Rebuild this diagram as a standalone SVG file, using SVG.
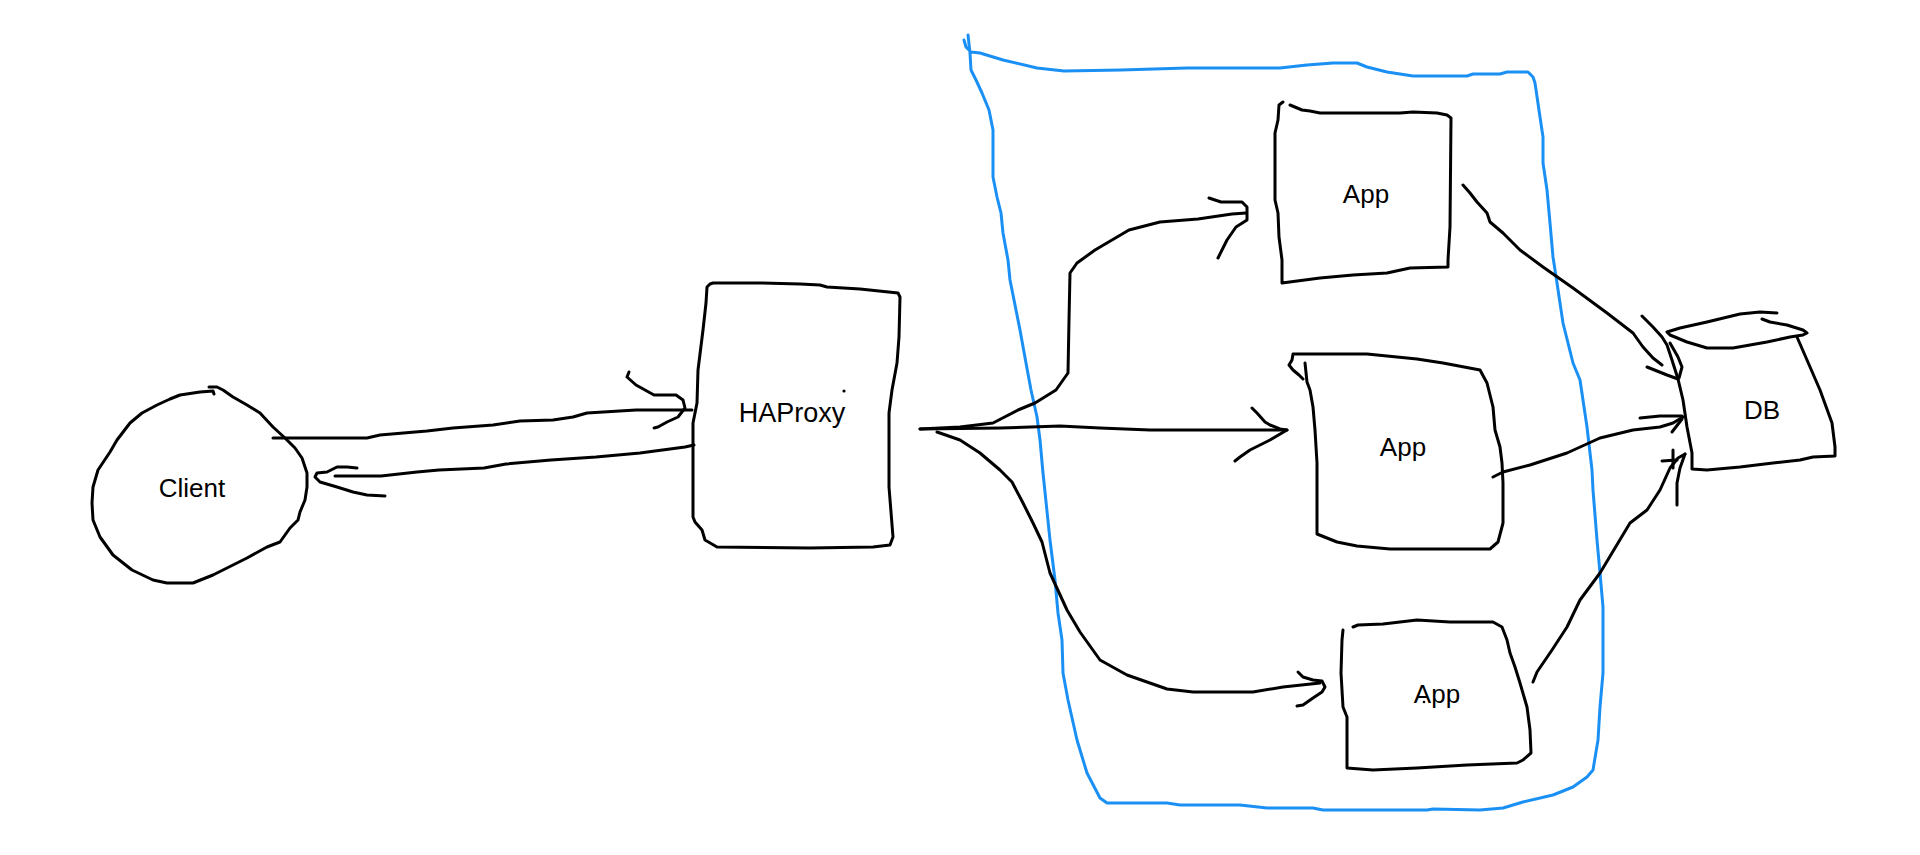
<svg xmlns="http://www.w3.org/2000/svg" width="1920" height="855" viewBox="0 0 1920 855">
<style>
.ink{fill:none;stroke:#000;stroke-width:3;stroke-linecap:round;stroke-linejoin:round}
.blue{fill:none;stroke:#1a90f5;stroke-width:3;stroke-linecap:round;stroke-linejoin:round}
.lbl{font-family:"Liberation Sans",Arial,sans-serif;font-size:26px;fill:#000;text-anchor:middle}
</style>
<rect width="1920" height="855" fill="#fff"/>
<g id="boundary">
<path class="blue" d="M964,40 L966,47 L971,52 L980,53 L1003,60 L1037,68 L1064,71 L1121,70 L1187,68 L1280,68 L1307,65 L1333,63 L1357,63 L1367,67 L1387,72 L1413,76 L1467,76 L1473,74 L1500,74 L1507,72 L1528,72 L1533,77 L1535,83 L1540,117 L1543,137 L1543,163 L1547,190 L1550,223 L1553,257 L1557,283 L1563,323 L1573,363 L1580,380 L1587,427 L1592,470 L1593,490 L1597,540 L1600,573 L1603,607 L1603,673 L1600,707 L1598,740 L1593,770 L1587,777 L1573,787 L1553,795 L1523,802 L1503,808 L1480,810 L1433,809 L1427,810 L1323,810 L1313,808 L1267,808 L1240,805 L1180,805 L1167,803 L1107,803 L1100,798 L1087,773 L1077,740 L1068,700 L1063,673 L1062,640 L1058,613 L1055,580 L1050,540 L1043,473 L1040,440 L1037,417 L1031,390 L1026,363 L1020,330 L1014,300 L1010,280 L1008,260 L1003,233 L1001,213 L997,197 L993,177 L993,130 L989,110 L982,93 L976,80 L971,70 L970,53 L968,35"/>
</g>
<g id="client">
<path class="ink" d="M214,394 L213,391 L200,392 L180,395 L170,399 L157,405 L142,413 L130,423 L117,440 L110,452 L98,470 L93,487 L92,503 L93,520 L100,537 L113,555 L132,570 L153,580 L167,583 L193,583 L213,575 L247,558 L267,547 L280,542 L290,528 L298,520 L300,512 L305,500 L307,487 L307,473 L302,458 L295,448 L285,438 L273,427 L260,413 L247,405 L233,397 L223,390 L217,387 L209,387"/>
<text class="lbl" x="192" y="497">Client</text>
</g>
<g id="haproxy">
<path class="ink" d="M710,284 L713,283 L760,283 L800,284 L820,285 L827,287 L860,289 L898,293 L900,297 L899,337 L897,363 L892,390 L889,413 L889,487 L893,537 L890,545 L873,547 L810,548 L717,547 L705,540 L702,530 L695,522 L693,517 L693,423 L697,403 L698,370 L703,330 L706,303 L707,287 Z"/>
<circle cx="844" cy="391" r="1.6" fill="#000"/>
<text class="lbl" x="792" y="422" style="font-size:27px">HAProxy</text>
</g>
<g id="app1">
<path class="ink" d="M1290,105 L1302,110 L1310,111 L1320,113 L1400,113 L1413,112 L1437,113 L1447,115 L1451,118 L1450,227 L1448,260 L1448,267 L1410,268 L1387,273 L1353,275 L1320,278 L1282,283 L1282,260 L1279,237 L1278,213 L1275,200 L1275,133 L1278,120 L1279,105 L1283,102"/>
<text class="lbl" x="1366" y="203">App</text>
</g>
<g id="app2">
<path class="ink" d="M1303,379 L1299,375 L1293,370 L1289,365 L1292,360 L1293,354 L1367,354 L1417,359 L1443,363 L1480,370 L1487,383 L1493,407 L1495,430 L1500,447 L1502,463 L1503,483 L1503,523 L1498,542 L1490,549 L1390,549 L1357,546 L1337,542 L1317,534 L1317,463 L1315,430 L1313,407 L1310,390 L1307,382 L1305,363"/>
<text class="lbl" x="1403" y="456">App</text>
</g>
<g id="app3">
<path class="ink" d="M1353,627 L1358,625 L1383,624 L1417,620 L1450,622 L1493,622 L1502,627 L1507,640 L1510,653 L1515,667 L1520,683 L1527,707 L1530,730 L1531,753 L1523,760 L1517,763 L1467,765 L1417,768 L1373,770 L1347,768 L1347,717 L1343,707 L1341,673 L1342,640 L1343,630"/>
<text class="lbl" x="1437" y="703">App</text>
<circle cx="1424" cy="702" r="1.3" fill="#000"/>
</g>
<g id="db">
<path class="ink" d="M1777,313 L1760,312 L1740,314 L1707,322 L1680,328 L1667,332 L1670,335 L1687,342 L1707,348 L1733,348 L1767,342 L1790,337 L1803,335 L1807,333 L1803,330 L1787,325 L1770,322 L1762,319"/>
<path class="ink" d="M1797,337 L1807,360 L1820,390 L1832,423 L1835,447 L1835,456 L1813,457 L1800,460 L1773,463 L1740,467 L1707,470 L1692,469 L1692,453 L1687,427 L1683,400 L1678,379 L1672,360 L1667,345 L1662,337 L1653,327 L1642,316"/>
<path class="ink" d="M1670,343 L1678,357 L1682,367 L1679,378"/>
<text class="lbl" x="1762" y="419">DB</text>
</g>
<g id="connectors">
<path class="ink" d="M273,438 L367,438 L380,435 L427,431 L453,428 L493,425 L520,421 L553,420 L573,417 L587,413 L636,410 L692,410"/>
<path class="ink" d="M629,372 L627,377 L636,385 L654,395 L676,395 L683,400 L685,408 L678,417 L667,422 L658,427 L654,428"/>
<path class="ink" d="M694,445 L685,447 L640,453 L596,457 L551,460 L506,464 L484,468 L439,470 L417,472 L381,476 L335,476"/>
<path class="ink" d="M357,468 L347,467 L337,467 L327,472 L317,473 L315,477 L320,482 L337,487 L353,492 L367,495 L385,496"/>
<path class="ink" d="M920,429 L960,427 L993,423 L1018,410 L1035,403 L1056,390 L1068,373 L1069,320 L1070,273 L1077,263 L1095,250 L1129,230 L1160,222 L1198,219 L1232,214 L1246,213"/>
<path class="ink" d="M1209,198 L1221,202 L1242,202 L1247,207 L1247,220 L1236,227 L1227,240 L1218,258"/>
<path class="ink" d="M920,429 L1000,428 L1060,426 L1100,428 L1150,430 L1287,430"/>
<path class="ink" d="M1252,408 L1257,413 L1265,422 L1270,425 L1280,429 L1287,430 L1270,440 L1250,450 L1240,457 L1235,461"/>
<path class="ink" d="M937,432 L960,440 L980,453 L1000,470 L1012,482 L1023,503 L1033,523 L1042,542 L1050,573 L1067,610 L1080,632 L1100,660 L1127,675 L1167,689 L1193,692 L1253,692 L1283,687 L1320,683"/>
<path class="ink" d="M1298,672 L1303,677 L1313,680 L1322,681 L1325,687 L1322,692 L1313,698 L1303,705 L1297,706"/>
<path class="ink" d="M1463,185 L1470,193 L1477,202 L1487,213 L1490,222 L1503,233 L1520,250 L1543,267 L1573,288 L1607,313 L1633,333 L1643,347 L1653,358 L1662,365"/>
<path class="ink" d="M1647,367 L1657,371 L1667,375 L1678,379"/>
<path class="ink" d="M1493,477 L1503,472 L1530,465 L1567,453 L1600,438 L1633,430 L1660,427 L1673,423 L1683,417"/>
<path class="ink" d="M1640,418 L1660,416 L1682,416"/>
<path class="ink" d="M1672,432 L1682,419"/>
<path class="ink" d="M1533,682 L1537,672 L1552,650 L1567,627 L1580,600 L1600,573 L1630,523 L1647,510 L1660,490 L1670,468 L1678,458 L1685,454"/>
<path class="ink" d="M1662,461 L1677,460"/>
<path class="ink" d="M1673,450 L1673,468"/>
<path class="ink" d="M1677,505 L1677,483 L1680,468 L1685,454"/>
</g>
</svg>
